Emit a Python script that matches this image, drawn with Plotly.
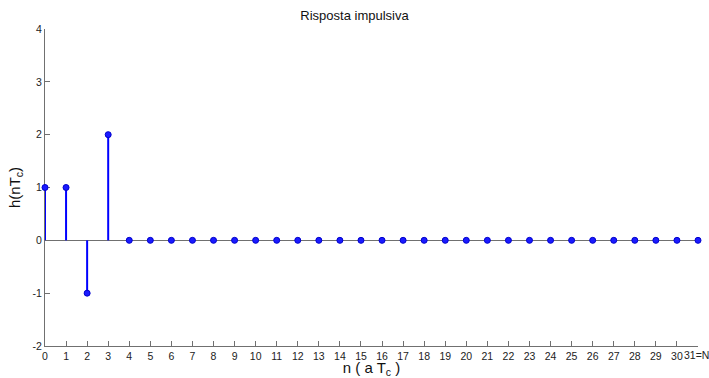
import plotly.graph_objects as go

# Impulse response samples h(nTc), n = 0..31
n = list(range(32))
h = [1, 1, -1, 2] + [0] * 28

x_ticks = list(range(32))
x_tick_text = [str(i) for i in range(31)] + [""]
last_tick_text = "31=N-1"
y_ticks = [-2, -1, 0, 1, 2, 3, 4]
y_tick_text = ["-2", "-1", "0", "1", "2", "3", "4"]

# Stem lines from the baseline to each sample
stem_x, stem_y = [], []
for xi, yi in zip(n, h):
    stem_x += [xi, xi, None]
    stem_y += [0, yi, None]

fig = go.Figure()
fig.add_trace(go.Scatter(x=stem_x, y=stem_y, mode="lines",
                         line=dict(color="#0000ff", width=2),
                         hoverinfo="skip", showlegend=False, cliponaxis=False))
fig.add_trace(go.Scatter(x=n, y=h, mode="markers",
                         marker=dict(color="#1a1aff", size=6,
                                     line=dict(color="#0000cc", width=1)),
                         showlegend=False, cliponaxis=False))

FONT = "Liberation Sans, Arial, sans-serif"
axis_font = dict(family=FONT, size=10.5, color="#222222")

# The last tick label runs past the right edge, so it is placed as an annotation
fig.add_annotation(x=31, y=0, xref="x", yref="paper", text=last_tick_text,
                   showarrow=False, xanchor="left", yanchor="top",
                   xshift=-16, yshift=-1, font=axis_font)

fig.update_layout(
    width=709, height=378,
    margin=dict(l=45, r=11, t=29, b=32),
    paper_bgcolor="white", plot_bgcolor="white",
    title=dict(text="Risposta impulsiva", x=0.5, xanchor="center",
               y=1 - 15 / 378, yanchor="middle",
               font=dict(family=FONT, size=13, color="#111111")),
    font=axis_font,
    xaxis=dict(range=[0, 31], tickvals=x_ticks, ticktext=x_tick_text,
               showgrid=False, zeroline=False, showline=True,
               linecolor="#707070", linewidth=1, layer="below traces",
               ticks="inside", ticklen=5, tickcolor="#707070",
               tickfont=axis_font, automargin=False,
               title=dict(text="n ( a T<sub>c</sub> )", standoff=3,
                          font=dict(family=FONT, size=15, color="#111111"))),
    yaxis=dict(range=[-2, 4], tickvals=y_ticks, ticktext=y_tick_text,
               showgrid=False, zeroline=True, zerolinecolor="#707070", zerolinewidth=1,
               showline=True, linecolor="#707070", linewidth=1, layer="below traces",
               ticks="inside", ticklen=5, tickcolor="#707070",
               tickfont=axis_font, automargin=False,
               title=dict(text="h(nT<sub>c</sub>)", standoff=8,
                          font=dict(family=FONT, size=15, color="#111111"))),
)

fig.write_html("out.html")
